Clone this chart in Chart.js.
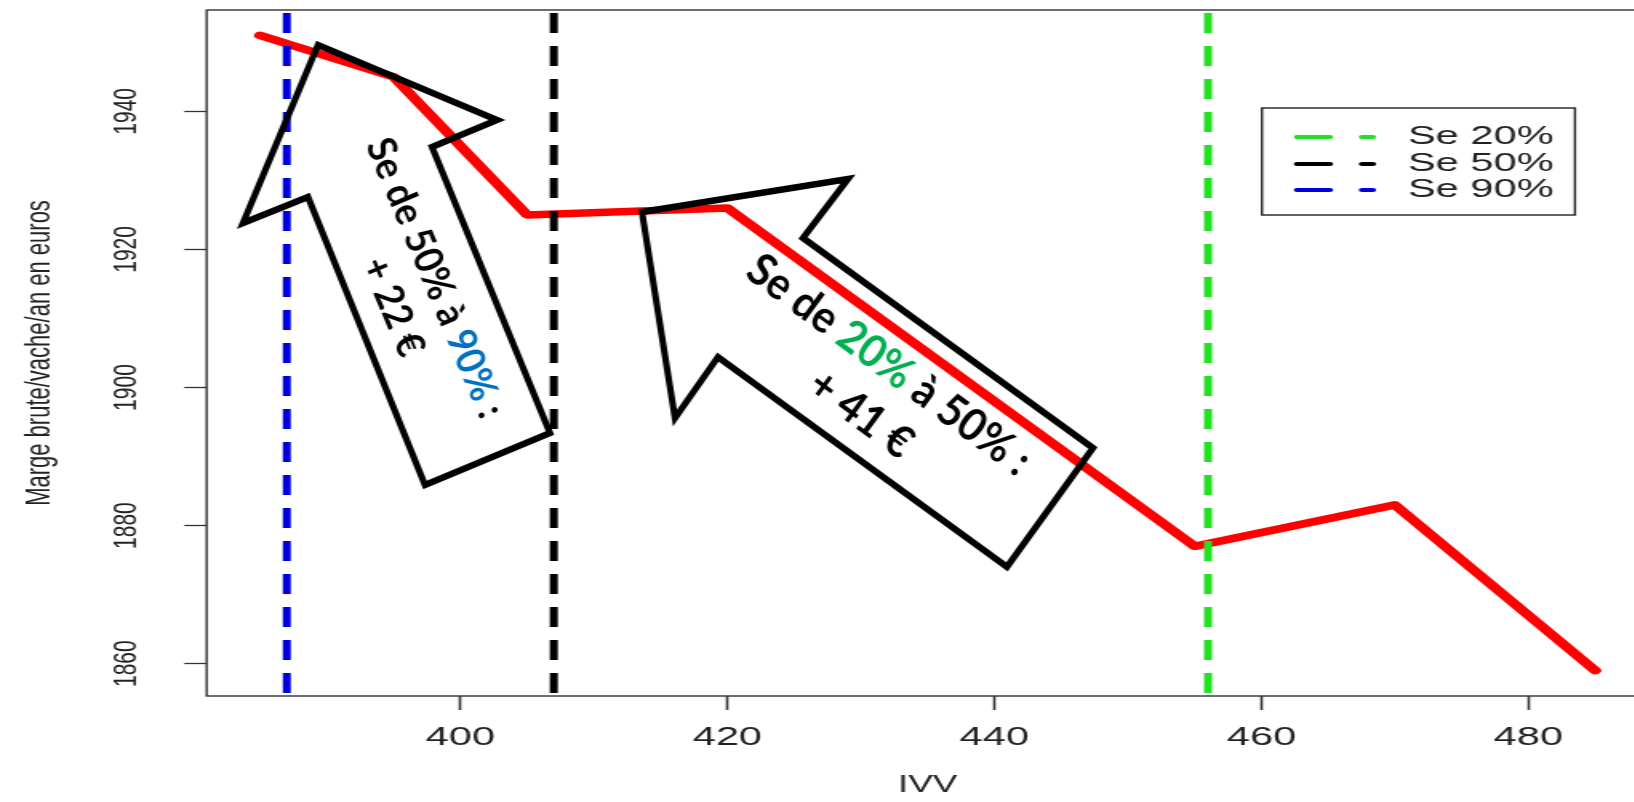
<!DOCTYPE html>
<html lang="fr">
<head>
<meta charset="utf-8">
<title>Marge brute selon IVV</title>
<script src="https://cdn.jsdelivr.net/npm/chart.js@4.4.1/dist/chart.umd.min.js"></script>
<style>
  html, body { margin: 0; padding: 0; background: #fff; overflow: hidden; }
</style>
</head>
<body>
<canvas id="chart" width="1040" height="802" style="width:1664px;height:802px"></canvas>
<script>
// IVV (jours) et marge brute par vache et par an (euros)
const ivv = [385, 395, 405, 420, 455, 470, 485];
const marge = [1951, 1945, 1925, 1926, 1877, 1883, 1859];

// IVV atteint selon la sensibilite de detection (Se)
const seLabels = ['Se 20%', 'Se 50%', 'Se 90%'];
const seIvv = [456, 407, 387];
const seColors = ['#22e022', '#000000', '#0000dd'];

const xTicks = [400, 420, 440, 460, 480];
const yTicks = [1860, 1880, 1900, 1920, 1940];

// the original R plot was stretched sideways, so the canvas is too
const SX = 1664 / 1040;
const FONT = "'Liberation Sans', Arial, sans-serif";

// axis ranges like R (4% beyond the data)
const xPad = (Math.max(...ivv) - Math.min(...ivv)) * 0.04;
const yPad = (Math.max(...marge) - Math.min(...marge)) * 0.04;
const xMin = Math.min(...ivv) - xPad, xMax = Math.max(...ivv) + xPad;
const yMin = Math.min(...marge) - yPad, yMax = Math.max(...marge) + yPad;

// arrows pasted on top of the plot (page pixels)
const arrows = [
    {
        pts: [[318, 45], [497, 120], [432, 147], [550, 433], [425, 485], [308, 197], [243, 223]],
        angle: 67.3, size: 40, squeeze: 0.92,
        lines: [
            { c: [435, 278], parts: [['Se de 50% à ', '#000'], ['90%', '#0070c0'], [' :', '#000']] },
            { c: [393, 307], parts: [['+ 22 €', '#000']] }
        ]
    },
    {
        pts: [[642, 212], [848, 179], [803, 238], [1093, 448], [1007, 567], [718, 357], [675, 418]],
        angle: 36.4, size: 45, squeeze: 0.93,
        lines: [
            { c: [889, 365], parts: [['Se de ', '#000'], ['20%', '#00b050'], [' à 50% :', '#000']] },
            { c: [861, 414], parts: [['+ 41 €', '#000']] }
        ]
    }
];

function drawTextLine(ctx, line, ar) {
    ctx.save();
    ctx.translate(line.c[0], line.c[1]);
    ctx.rotate(ar.angle * Math.PI / 180);
    ctx.scale(ar.squeeze, 1);
    ctx.font = 'bold ' + ar.size + 'px Lato, sans-serif';
    ctx.textBaseline = 'middle';
    ctx.textAlign = 'left';
    const total = line.parts.reduce((w, p) => w + ctx.measureText(p[0]).width, 0);
    let x = -total / 2;
    line.parts.forEach(([t, c]) => {
        ctx.fillStyle = c;
        ctx.fillText(t, x, 0);
        x += ctx.measureText(t).width;
    });
    ctx.restore();
}

const overlay = {
    id: 'overlay',
    beforeDatasetsDraw(chart) {
        const { ctx, chartArea: a } = chart;
        ctx.save();
        ctx.strokeStyle = '#333';
        ctx.lineWidth = 1.4;
        ctx.strokeRect(a.left, a.top, a.right - a.left, a.bottom - a.top);
        ctx.restore();
    },
    afterDraw(chart) {
        const ctx = chart.ctx;

        // legend box (inside the plot, top right)
        ctx.save();
        ctx.strokeStyle = '#222';
        ctx.lineWidth = 1.4;
        ctx.strokeRect(1262 / SX, 108, (1575 - 1262) / SX, 107);
        const rows = [137, 164, 190];
        seLabels.forEach((lab, i) => {
            ctx.strokeStyle = seColors[i];
            ctx.lineWidth = 4;
            ctx.lineCap = 'round';
            ctx.beginPath();
            ctx.moveTo(1297 / SX, rows[i]);
            ctx.lineTo(1330 / SX, rows[i]);
            ctx.moveTo(1362 / SX, rows[i]);
            ctx.lineTo(1373 / SX, rows[i]);
            ctx.stroke();
            ctx.fillStyle = '#222';
            ctx.font = '26px ' + FONT;
            ctx.textBaseline = 'middle';
            ctx.fillText(lab, 1408 / SX, rows[i]);
        });
        ctx.restore();

        // arrows, drawn in page pixels so they are not stretched
        ctx.save();
        ctx.scale(1 / SX, 1);
        arrows.forEach(ar => {
            ctx.beginPath();
            ar.pts.forEach((p, i) => i ? ctx.lineTo(p[0], p[1]) : ctx.moveTo(p[0], p[1]));
            ctx.closePath();
            ctx.strokeStyle = '#000';
            ctx.lineWidth = 6.5;
            ctx.lineJoin = 'miter';
            ctx.stroke();
            ar.lines.forEach(l => drawTextLine(ctx, l, ar));
        });
        ctx.restore();
    }
};

const datasets = [{
    label: 'Marge brute',
    data: ivv.map((x, i) => ({ x: x, y: marge[i] })),
    borderColor: '#ff0000',
    borderWidth: 7.5,
    borderJoinStyle: 'round',
    borderCapStyle: 'round',
    pointRadius: 0,
    order: 2
}];
seIvv.forEach((x, i) => {
    datasets.push({
        label: seLabels[i],
        data: [{ x: x, y: yMax }, { x: x, y: yMin }],
        borderColor: seColors[i],
        borderWidth: 5,
        borderDash: [20, 13],
        borderDashOffset: -3,
        pointRadius: 0,
        order: 1
    });
});

new Chart(document.getElementById('chart'), {
    type: 'line',
    data: { datasets: datasets },
    options: {
        responsive: false,
        animation: false,
        events: [],
        layout: { padding: { left: 0, right: 9.6, top: 10, bottom: 0 } },
        plugins: { legend: { display: false }, tooltip: { enabled: false } },
        scales: {
            x: {
                type: 'linear', min: xMin, max: xMax,
                afterBuildTicks: s => { s.ticks = xTicks.map(v => ({ value: v })); },
                afterFit: s => { s.height = 106; s.paddingLeft = 0; s.paddingRight = 0; },
                grid: { drawOnChartArea: false, tickLength: 14, tickWidth: 1.6, tickColor: '#333' },
                border: { display: false },
                ticks: { maxRotation: 0, padding: 12, color: '#222', font: { family: FONT, size: 26 }, callback: v => String(v) },
                title: { display: true, text: 'IVV', color: '#222', font: { family: FONT, size: 23 }, padding: { top: 0, bottom: 3 } }
            },
            y: {
                type: 'linear', min: yMin, max: yMax,
                afterBuildTicks: s => { s.ticks = yTicks.map(v => ({ value: v })); },
                afterFit: s => { s.width = 129.2; s.paddingTop = 0; s.paddingBottom = 0; },
                grid: { drawOnChartArea: false, tickLength: 14, tickWidth: 1.3, tickColor: '#333' },
                border: { display: false },
                ticks: { minRotation: 90, maxRotation: 90, crossAlign: 'center', padding: 13, color: '#222', font: { family: FONT, size: 21 }, callback: v => String(v) },
                title: { display: true, text: 'Marge brute/vache/an en euros', color: '#222', font: { family: FONT, size: 22 }, padding: { top: 12, bottom: 0 } }
            }
        }
    },
    plugins: [overlay]
});
</script>
</body>
</html>
